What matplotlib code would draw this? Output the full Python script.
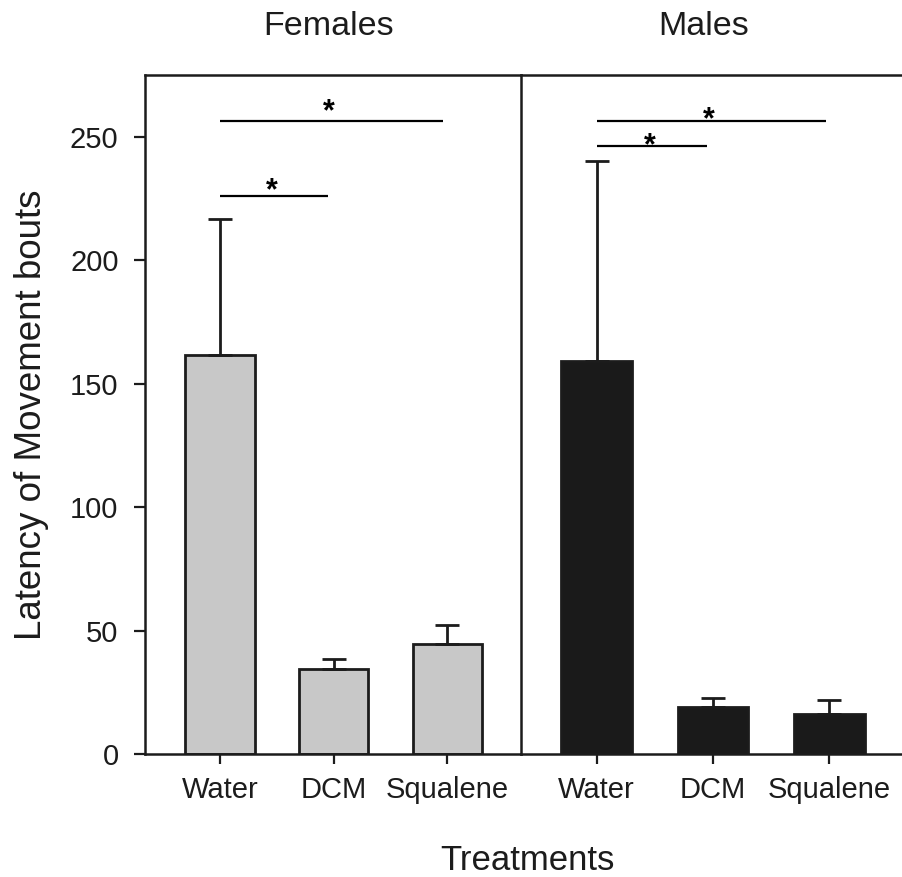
import matplotlib
matplotlib.use("Agg")
import matplotlib.pyplot as plt

# Latency of movement bouts per treatment, mean and upper SEM
treatments = ["Water", "DCM", "Squalene"]
female_means = [161.8, 34.3, 44.4]
female_sem = [55.0, 4.2, 7.9]
male_means = [159.0, 18.9, 16.2]
male_sem = [81.0, 3.8, 5.7]

# Significance brackets: (from bar, to bar, line height, star height)
female_sig = [(0, 0.95, 225.8, 231.8), (0, 1.96, 256.2, 263.7)]
male_sig = [(0, 0.95, 246.1, 250.0), (0, 1.97, 256.2, 260.8)]

plt.rcParams["font.family"] = ["Liberation Sans", "DejaVu Sans"]
INK = "#1c1c1c"

W, H = 903, 877
fig = plt.figure(figsize=(W / 100, H / 100), dpi=100)

bottom = (H - 754) / H
height = (754 - 75) / H
ax_f = fig.add_axes([145 / W, bottom, (521 - 145) / W, height])
ax_m = fig.add_axes([521 / W, bottom, (905 - 521) / W, height])

panels = [
    (ax_f, female_means, female_sem, "#c8c8c8", female_sig, "Females", 0.487, (-0.66, 2.65)),
    (ax_m, male_means, male_sem, "#1a1a1a", male_sig, "Males", 0.475, (-0.65, 2.65)),
]

STAR_FS = 22
x = list(range(len(treatments)))
for ax, means, sem, fill, sig, title, tx, xlim in panels:
    ax.bar(x, means, width=0.61, color=fill, edgecolor=INK, linewidth=2.0, zorder=2)
    ax.errorbar(x, means, yerr=[[0] * len(sem), sem], fmt="none", ecolor=INK,
                elinewidth=2.0, capsize=8.7, capthick=2.0, zorder=3)
    for a, b, y, ys in sig:
        ax.plot([a, b], [y, y], color="black", linewidth=1.6, solid_capstyle="butt",
                zorder=4)
        ax.annotate("*", xy=((a + b) / 2 - 0.02, ys), xytext=(0, -0.58 * STAR_FS),
                    textcoords="offset points", ha="center", va="baseline",
                    fontsize=STAR_FS, fontweight="bold", color="black")
    ax.set_xlim(*xlim)
    ax.set_ylim(0, 275)
    ax.set_xticks(x)
    ax.set_xticklabels(treatments, fontsize=21, color=INK)
    ax.tick_params(axis="x", direction="out", length=7.5, width=1.6, color=INK, pad=8)
    for side in ["top", "bottom", "left"]:
        ax.spines[side].set_linewidth(1.8)
        ax.spines[side].set_color(INK)
    ax.spines["right"].set_visible(False)
    ax.text(tx, 1 + 40 / 679, title, transform=ax.transAxes, ha="center",
            va="baseline", fontsize=24.5, color=INK)

ax_f.set_yticks([0, 50, 100, 150, 200, 250])
ax_f.tick_params(axis="y", direction="out", length=8, width=1.6, color=INK, pad=11,
                 labelsize=21, labelcolor=INK)
ax_f.set_ylabel("Latency of Movement bouts", fontsize=26.5, color=INK, labelpad=15)

ax_m.tick_params(axis="y", left=False, labelleft=False)

fig.text(527 / W, 1 - 860 / H, "Treatments", ha="center", va="center",
         fontsize=25, color=INK)

fig.savefig("out.png", dpi=100)
